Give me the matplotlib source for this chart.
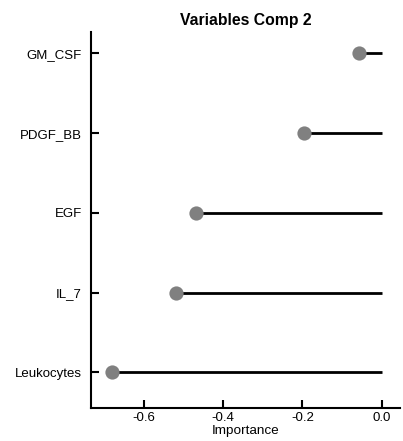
import matplotlib
matplotlib.use("Agg")
import matplotlib.pyplot as plt

variables = ["Leukocytes", "IL_7", "EGF", "PDGF_BB", "GM_CSF"]
importance = [-0.679, -0.519, -0.469, -0.196, -0.058]
x_ticks = [-0.6, -0.4, -0.2, 0.0]
x_tick_labels = ["-0.6", "-0.4", "-0.2", "0.0"]

plt.rcParams['font.family'] = ['Liberation Sans', 'DejaVu Sans']

fig = plt.figure(figsize=(4.03, 4.41), dpi=100)
ax = fig.add_axes([0.227, 0.0755, 0.766, 0.852])

ypos = list(range(1, len(variables) + 1))
ax.hlines(ypos, importance, 0, color='black', linewidth=2, zorder=2)
ax.scatter(importance, ypos, s=105, color='#808080', zorder=3, linewidths=0)

ax.set_xlim(-0.731, 0.046)
ax.set_ylim(0.556, 5.27)
ax.set_yticks(ypos)
ax.set_yticklabels(variables, fontsize=9.5)
ax.set_xticks(x_ticks)
ax.set_xticklabels(x_tick_labels, fontsize=9.5)
ax.tick_params(axis='both', direction='in', length=6, width=1.5, color='black')
ax.tick_params(axis='y', pad=7)
ax.tick_params(axis='x', pad=3)

for s in ['top', 'right']:
    ax.spines[s].set_visible(False)
for s in ['left', 'bottom']:
    ax.spines[s].set_linewidth(1.5)

ax.set_xlabel("Importance", fontsize=9.7, labelpad=1)
ax.set_title("Variables Comp 2", fontsize=11.3, fontweight='bold', pad=5)

fig.savefig("out.png", dpi=100)
